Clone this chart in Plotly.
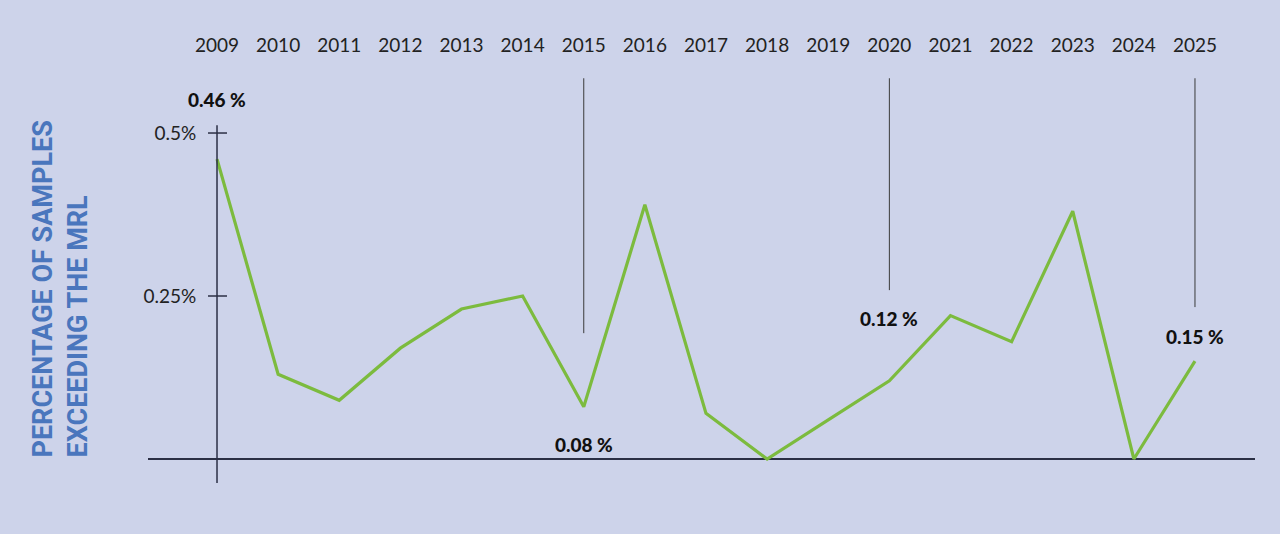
import plotly.graph_objects as go

years = list(range(2009, 2026))
pct = [0.46, 0.13, 0.09, 0.17, 0.23, 0.25, 0.08, 0.39, 0.07, 0.0, 0.06, 0.12, 0.22, 0.18, 0.38, 0.0, 0.15]
year_labels = [str(y) for y in years]
ytick_vals = [0.25, 0.5]
ytick_text = ["0.25%", "0.5%"]

callout_years = [2009, 2015, 2020, 2025]
callout_text = ["0.46 %", "0.08 %", "0.12 %", "0.15 %"]
callout_y = [0.552, 0.023, 0.216, 0.188]
leader_years = [2015, 2020, 2025]
leader_bottom = [0.193, 0.259, 0.233]
leader_top = 0.584

BG = "#cdd3ea"
DARK = "#2b2f45"
GREEN = "#7cbb3e"
BLUE = "#4a76bd"

fig = go.Figure()
fig.add_trace(go.Scatter(x=years, y=pct, mode="lines",
                         line=dict(color=GREEN, width=3.2), hoverinfo="skip"))

shapes = []
shapes.append(dict(type="line", xref="x", yref="y", x0=2009, x1=2009, y0=-0.0368, y1=0.512,
                   line=dict(color=DARK, width=1.5)))
for v in ytick_vals:
    shapes.append(dict(type="line", xref="x", yref="y", xsizemode="pixel", xanchor=2009,
                       x0=-9, x1=10, y0=v, y1=v, line=dict(color=DARK, width=1.5)))
for yr, b in zip(leader_years, leader_bottom):
    shapes.append(dict(type="line", xref="x", yref="y", x0=yr, x1=yr, y0=b, y1=leader_top,
                       line=dict(color="#3a3a3a", width=1)))

annotations = []
for yr, t, yy in zip(callout_years, callout_text, callout_y):
    annotations.append(dict(x=yr, y=yy, xref="x", yref="y", text=t, showarrow=False,
                            font=dict(family="Lato", size=19, color="#111111", weight=900)))
annotations.append(dict(x=-0.0795, y=0, xref="paper", yref="y", xanchor="center", yanchor="bottom",
                        text="<b>PERCENTAGE OF SAMPLES<br>EXCEEDING THE MRL</b>", textangle=-90,
                        align="left", showarrow=False,
                        font=dict(family="Roboto", size=27, color=BLUE)))

fig.update_layout(
    width=1280, height=534,
    paper_bgcolor=BG, plot_bgcolor=BG,
    margin=dict(l=148, r=25, t=57, b=34),
    showlegend=False,
    shapes=shapes, annotations=annotations,
    xaxis=dict(range=[2007.871, 2025.982], side="top", tickvals=years, ticktext=year_labels,
               showgrid=False, zeroline=False, showline=False, ticks="",
               tickfont=dict(family="Lato", size=19, color="#222222")),
    yaxis=dict(range=[-0.0629, 0.6166], anchor="free", position=0.0623,
               tickvals=ytick_vals, ticktext=ytick_text, showgrid=False,
               zeroline=True, zerolinecolor=DARK, zerolinewidth=1.5, showline=False,
               ticks="outside", ticklen=17, tickcolor="rgba(0,0,0,0)",
               tickfont=dict(family="Lato", size=19, color="#222222")),
)

fig.write_html("out.html", config={"displayModeBar": False},
               post_script="document.body.style.margin='0';document.body.style.background='%s';" % BG)
